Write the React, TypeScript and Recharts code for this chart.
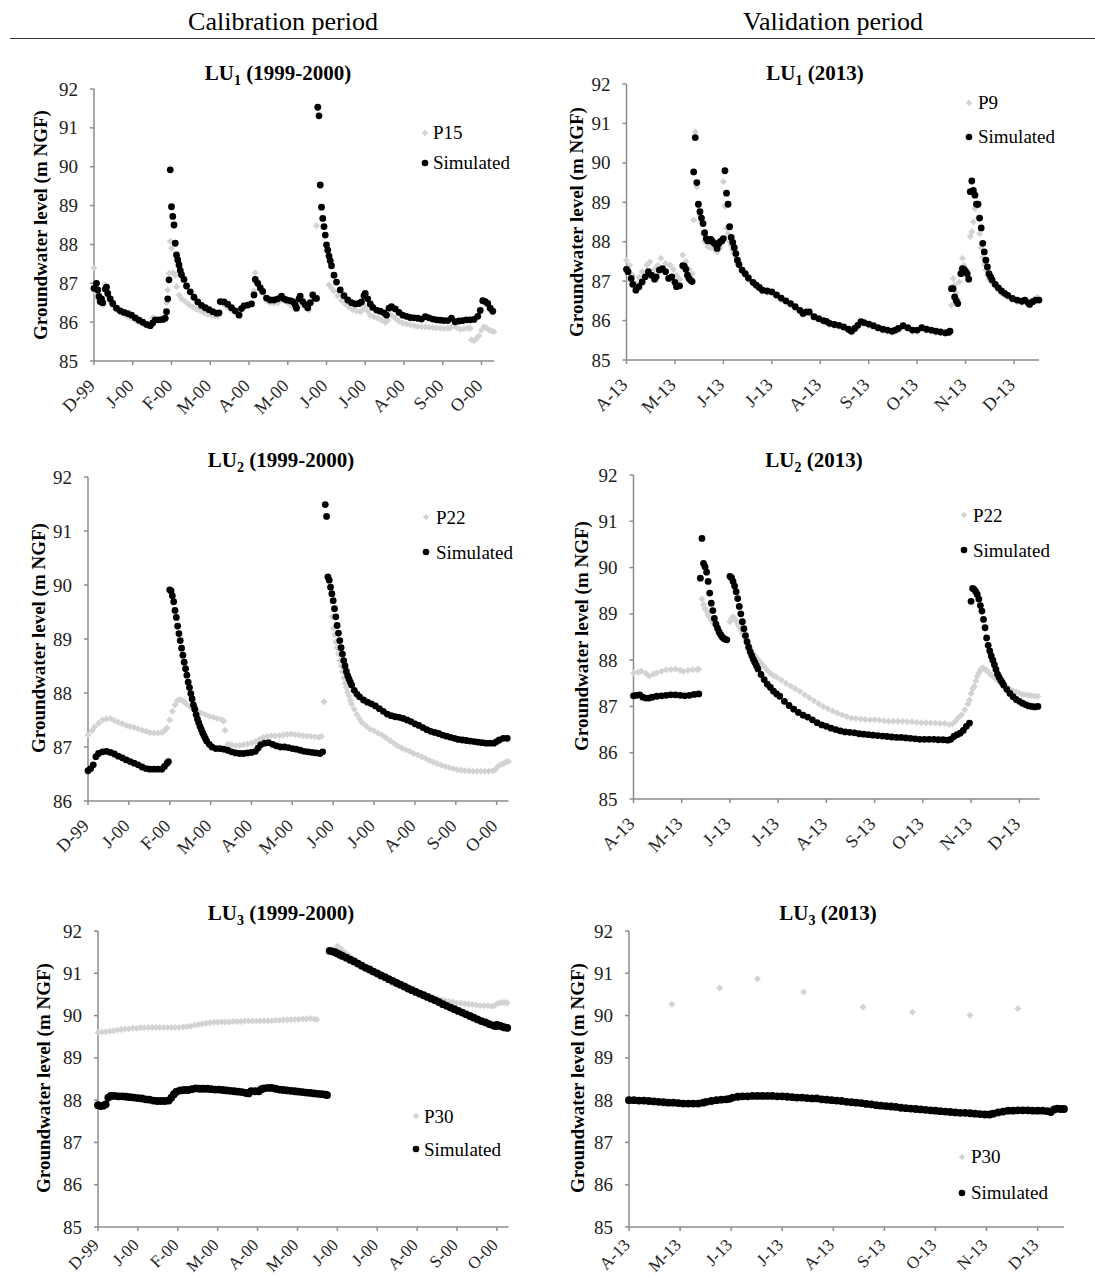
import React from 'react';
import { ScatterChart, Scatter, XAxis, YAxis, Legend } from 'recharts';

const SERIF = 'Liberation Serif, Times New Roman, serif';

// tick labels, one every 31 days from the first day of the period
const CAL_LABELS = ['D-99', 'J-00', 'F-00', 'M-00', 'A-00', 'M-00', 'J-00', 'J-00', 'A-00', 'S-00', 'O-00'];
const VAL_LABELS = ['A-13', 'M-13', 'J-13', 'J-13', 'A-13', 'S-13', 'O-13', 'N-13', 'D-13'];

// [day since start, groundwater level (m NGF)]
const LU1_CAL_P15: [number, number][] = [
  [0,87.4],[2,86.74],[3,86.6],[5,86.48],[7,86.44],[9,86.96],[11,86.66],[13,86.52],[15,86.4],[18,86.32],[21,86.25],[24,86.2],[27,86.14],[30,86.1],[33,86.05],[36,86.0],[39,85.95],[42,85.91],[44,85.9],[47,86.12],[50,86.06],[53,86.05],[56,86.06],[58,86.5],[59,86.83],[60,87.26],[61,88.08],[62,87.9],[63,87.27],[64,87.25],[65,87.21],[66,86.91],[68,86.7],[70,86.6],[73,86.53],[76,86.45],[79,86.39],[82,86.33],[85,86.29],[88,86.24],[91,86.2],[94,86.18],[97,86.16],[99,86.15],
  [101,86.53],[103,86.48],[106,86.4],[109,86.33],[112,86.27],[115,86.2],[117,86.22],[119,86.38],[121,86.4],[124,86.45],[126,86.47],[128,86.8],[129,87.27],[131,87.05],[133,86.91],[135,86.75],[138,86.55],[141,86.5],[144,86.48],[147,86.5],[149,86.57],[152,86.55],[155,86.5],[158,86.42],[161,86.33],[163,86.4],[165,86.57],[167,86.45],[170,86.35],[172,86.31],[174,86.5],[176,86.61],[178,88.48],
  [188,86.96],[190,86.88],[192,86.8],[195,86.68],[198,86.56],[201,86.47],[204,86.39],[207,86.32],[210,86.29],[213,86.27],[215,86.32],[217,86.4],[219,86.28],[221,86.18],[224,86.14],[227,86.1],[230,86.05],[233,85.99],[235,86.05],[238,86.18],[241,86.1],[244,86.02],[247,85.98],[250,85.95],[253,85.93],[256,85.91],[259,85.89],[262,85.88],[265,85.88],[268,85.87],[271,85.86],[274,85.85],[277,85.84],[280,85.84],[283,85.84],[285,85.85],[287,85.9],[290,85.86],[293,85.82],[296,85.83],[299,85.84],[301,85.84],[302,85.55],[304,85.53],[306,85.58],[308,85.65],[310,85.8],[312,85.88],[314,85.85],[316,85.8],[318,85.78],[320,85.75],
];
const LU1_CAL_SIM: [number, number][] = [
  [0,86.87],[2,87.0],[3,86.83],[4,86.66],[5,86.53],[6,86.6],[7,86.5],[9,86.85],[10,86.9],[11,86.74],[13,86.6],[15,86.48],[18,86.36],[21,86.29],[24,86.25],[27,86.22],[30,86.18],[33,86.11],[36,86.05],[39,86.0],[42,85.94],[45,85.91],[47,85.98],[49,86.06],[52,86.06],[55,86.07],[57,86.1],[58,86.27],[59,86.6],[60,87.09],[61,89.92],[62,88.97],[63,88.72],[64,88.5],[65,88.03],[66,87.73],[67,87.6],[68,87.47],[69,87.33],[70,87.22],[72,87.1],[74,86.93],[77,86.78],[80,86.64],[83,86.52],[86,86.43],[89,86.37],[92,86.32],[95,86.27],[98,86.23],[100,86.24],
  [101,86.53],[104,86.52],[107,86.46],[110,86.37],[113,86.29],[116,86.18],[118,86.35],[120,86.42],[123,86.44],[126,86.47],[128,86.7],[129,87.1],[131,87.0],[133,86.88],[135,86.79],[138,86.62],[141,86.57],[144,86.57],[147,86.6],[150,86.67],[152,86.6],[154,86.57],[157,86.55],[159,86.53],[161,86.45],[162,86.36],[164,86.6],[165,86.67],[167,86.53],[169,86.45],[171,86.37],[173,86.5],[175,86.7],[177,86.62],[178,86.61],
  [179,91.53],[180,91.31],[181,89.53],[182,88.96],[183,88.67],[184,88.46],[185,88.24],[186,87.99],[187,87.85],[188,87.7],[189,87.58],[190,87.45],[192,87.21],[194,87.03],[197,86.83],[200,86.68],[203,86.57],[206,86.5],[209,86.47],[212,86.48],[214,86.52],[216,86.68],[217,86.74],[219,86.6],[221,86.47],[223,86.38],[226,86.31],[229,86.28],[232,86.24],[234,86.18],[236,86.36],[238,86.4],[241,86.34],[244,86.25],[247,86.18],[250,86.15],[253,86.12],[256,86.11],[259,86.1],[262,86.08],[265,86.14],[268,86.11],[271,86.08],[274,86.06],[277,86.05],[280,86.04],[283,86.04],[286,86.1],[289,86.01],[292,86.03],[295,86.04],[298,86.06],[301,86.06],[304,86.07],[307,86.15],[309,86.3],[311,86.55],[313,86.53],[315,86.48],[317,86.36],[319,86.28],
];

const LU1_VAL_P9: [number, number][] = [
  [0,87.53],[2,87.4],[4,87.15],[6,86.94],[8,87.1],[10,87.24],[13,87.41],[15,87.49],[18,87.3],[20,87.4],[22,87.58],[25,87.45],[28,87.4],[30,87.3],[32,87.15],[34,87.05],[36,87.66],[38,87.5],[40,87.3],[42,87.19],
  [43,88.55],[44,90.79],[45,89.39],[46,88.9],[47,88.65],[48,88.5],[49,88.2],[50,88.0],[52,87.87],[54,87.85],[56,87.83],[58,87.74],[60,87.85],[62,89.52],[63,88.9],[64,88.34],[65,88.2],[66,88.0],[67,87.9],[68,87.8],[69,87.7],[70,87.6],[71,87.48],[72,87.38],[74,87.24],[76,87.15],[78,87.04],[81,86.93],[83,86.86],[85,86.8],[87,86.73],[90,86.71],[93,86.69],[96,86.61],[99,86.53],[102,86.46],[105,86.39],[108,86.31],[111,86.22],[113,86.14],[115,86.18],[117,86.18],[120,86.06],[123,86.01],[126,85.96],[128,85.94],[130,85.89],[133,85.86],[136,85.84],[139,85.8],[142,85.74],[144,85.7],[146,85.76],[148,85.84],[150,85.93],[152,85.91],[155,85.87],[158,85.83],[161,85.78],[164,85.74],[167,85.72],[170,85.69],[172,85.72],[174,85.76],[177,85.83],[180,85.78],[183,85.72],[186,85.72],[189,85.78],[192,85.74],[195,85.72],[198,85.69],[201,85.68],[204,85.66],[207,85.68],
  [208,86.39],[209,87.07],[210,86.9],[211,86.7],[212,86.55],[213,86.98],[214,87.3],[215,87.58],[216,87.4],[217,87.3],[218,87.2],[219,87.1],[220,88.13],[221,88.25],[222,88.5],[223,88.84],[224,88.9],[225,88.6],[226,88.2],[227,87.85],[228,87.6],[229,87.42],[230,87.28],[231,87.15],[232,87.05],[234,86.95],[236,86.85],[238,86.77],[240,86.7],[242,86.64],[244,86.59],[247,86.52],[250,86.48],[253,86.46],[255,86.5],[257,86.42],[259,86.48],[261,86.55],[263,86.6],
];
const LU1_VAL_SIM: [number, number][] = [
  [0,87.3],[1,87.24],[3,87.07],[4,86.92],[6,86.77],[8,86.86],[10,86.98],[12,87.11],[14,87.24],[16,87.15],[18,87.05],[19,87.11],[21,87.28],[23,87.32],[25,87.24],[27,87.07],[29,87.11],[31,86.97],[32,86.86],[34,86.88],
  [36,87.39],[37,87.38],[38,87.3],[39,87.15],[40,87.07],[41,87.02],[42,86.99],
  [43,89.77],[44,90.64],[45,89.5],[46,88.95],[47,88.76],[48,88.6],[49,88.46],[50,88.23],[51,88.08],[52,88.02],[53,88.04],[54,88.06],[55,88.0],[56,87.97],[57,87.93],[58,87.83],[59,87.95],[60,88.0],[61,88.02],[62,88.08],[63,89.8],[64,89.23],[65,88.95],[66,88.38],[67,88.11],[68,87.98],[69,87.85],[70,87.7],[71,87.53],[72,87.42],[74,87.28],[76,87.19],[78,87.08],[81,86.97],[83,86.9],[85,86.84],[87,86.77],[90,86.75],[93,86.73],[96,86.65],[99,86.57],[102,86.5],[105,86.43],[108,86.35],[111,86.26],[113,86.18],[115,86.22],[117,86.22],[120,86.1],[123,86.05],[126,86.0],[128,85.98],[130,85.93],[133,85.9],[136,85.88],[139,85.84],[142,85.78],[144,85.73],[146,85.8],[148,85.88],[150,85.97],[152,85.95],[155,85.91],[158,85.87],[161,85.82],[164,85.78],[167,85.76],[170,85.73],[172,85.76],[174,85.8],[177,85.87],[180,85.82],[183,85.76],[186,85.76],[189,85.82],[192,85.78],[195,85.76],[198,85.73],[201,85.71],[204,85.69],[206,85.7],[207,85.73],
  [208,86.81],[209,86.81],[210,86.6],[211,86.5],[212,86.43],[214,87.19],[215,87.32],[216,87.3],[217,87.25],[218,87.19],[219,87.05],[220,89.27],[221,89.54],[222,89.3],[223,89.18],[224,88.95],[225,88.95],[226,88.6],[227,88.35],[228,87.96],[229,87.74],[230,87.53],[231,87.36],[232,87.19],[233,87.11],[234,87.03],[236,86.92],[238,86.83],[240,86.75],[242,86.69],[244,86.64],[247,86.56],[250,86.52],[253,86.49],[255,86.52],[257,86.45],[258,86.41],[260,86.48],[262,86.52],[264,86.52],
];

const LU2_CAL_P22: [number, number][] = [
  [0,87.22],[3,87.3],[5,87.37],[8,87.44],[11,87.5],[14,87.52],[17,87.53],[20,87.49],[23,87.46],[26,87.43],[29,87.4],[32,87.38],[35,87.36],[38,87.34],[41,87.31],[44,87.29],[47,87.27],[50,87.26],[53,87.26],[56,87.27],[58,87.3],[60,87.35],[62,87.5],[64,87.66],[66,87.78],[68,87.86],[70,87.88],[72,87.85],[74,87.81],[77,87.75],[80,87.71],[83,87.67],[86,87.63],[89,87.6],[92,87.57],[95,87.55],[98,87.53],[101,87.51],[103,87.48],[104,87.31],
  [106,87.05],[109,87.04],[112,87.03],[115,87.03],[118,87.04],[121,87.05],[124,87.07],[127,87.1],[130,87.14],[133,87.18],[136,87.2],[139,87.21],[142,87.21],[145,87.21],[148,87.22],[151,87.23],[154,87.24],[157,87.23],[160,87.22],[163,87.21],[166,87.2],[169,87.2],[172,87.19],[175,87.18],[177,87.2],[179,87.84],
  [185,89.41],[186,89.2],[187,89.08],[188,88.95],[189,88.84],[190,88.72],[191,88.6],[192,88.5],[193,88.4],[194,88.28],[195,88.18],[196,88.1],[197,88.02],[198,87.95],[199,87.86],[200,87.79],[202,87.7],[204,87.6],[206,87.52],[208,87.45],[211,87.39],[214,87.33],[217,87.3],[220,87.26],[223,87.22],[226,87.17],[229,87.12],[232,87.07],[235,87.02],[238,86.98],[241,86.95],[244,86.92],[247,86.88],[250,86.85],[253,86.82],[256,86.79],[259,86.75],[262,86.72],[265,86.69],[268,86.66],[271,86.64],[274,86.62],[277,86.6],[280,86.58],[283,86.57],[286,86.56],[289,86.56],[292,86.55],[295,86.55],[298,86.55],[301,86.55],[304,86.55],[307,86.56],[309,86.58],[311,86.64],[313,86.67],[315,86.69],[317,86.72],[319,86.73],
];
const LU2_CAL_SIM: [number, number][] = [
  [0,86.56],[2,86.6],[4,86.67],[6,86.82],[8,86.88],[11,86.91],[14,86.92],[17,86.9],[20,86.87],[23,86.83],[26,86.8],[29,86.76],[32,86.73],[35,86.7],[38,86.67],[41,86.63],[44,86.6],[47,86.59],[50,86.59],[53,86.59],[56,86.59],[58,86.64],[60,86.7],[61,86.73],
  [62,89.91],[63,89.89],[64,89.8],[65,89.69],[66,89.53],[67,89.4],[68,89.24],[69,89.1],[70,88.97],[71,88.83],[72,88.7],[73,88.57],[74,88.45],[75,88.33],[76,88.2],[77,88.1],[78,87.99],[79,87.89],[80,87.78],[81,87.7],[82,87.6],[83,87.52],[84,87.45],[85,87.38],[86,87.32],[87,87.26],[88,87.21],[89,87.16],[90,87.11],[92,87.05],[94,87.0],[97,86.97],[100,86.97],[103,86.96],[106,86.94],[109,86.91],[112,86.89],[115,86.88],[118,86.88],[121,86.89],[124,86.9],[127,86.92],[129,86.98],[131,87.04],[134,87.07],[137,87.08],[140,87.05],[143,87.02],[146,87.0],[149,87.0],[152,86.99],[155,86.97],[158,86.96],[161,86.94],[164,86.92],[167,86.91],[170,86.9],[173,86.89],[176,86.88],[178,86.91],
  [180,91.49],[181,91.27],[182,90.15],[183,90.09],[184,89.96],[185,89.84],[186,89.71],[187,89.56],[188,89.41],[189,89.25],[190,89.11],[191,88.97],[192,88.84],[193,88.72],[194,88.6],[195,88.5],[196,88.4],[197,88.32],[198,88.26],[199,88.2],[200,88.15],[202,88.05],[204,87.98],[206,87.93],[209,87.87],[212,87.83],[215,87.8],[218,87.76],[221,87.71],[224,87.66],[227,87.61],[230,87.58],[233,87.56],[236,87.55],[239,87.53],[242,87.5],[245,87.47],[248,87.43],[251,87.4],[254,87.36],[257,87.32],[260,87.29],[263,87.27],[266,87.25],[269,87.22],[272,87.2],[275,87.18],[278,87.16],[281,87.14],[284,87.13],[287,87.12],[290,87.11],[293,87.1],[296,87.09],[299,87.08],[302,87.07],[305,87.07],[308,87.07],[310,87.1],[312,87.13],[315,87.16],[318,87.16],
];

const LU2_VAL_P22: [number, number][] = [
  [0,87.72],[3,87.74],[5,87.76],[8,87.71],[10,87.66],[13,87.7],[15,87.72],[18,87.76],[21,87.79],[24,87.8],[27,87.81],[30,87.78],[32,87.76],[35,87.78],[38,87.79],[41,87.8],[42,87.81],
  [44,89.32],[45,89.2],[46,89.12],[47,89.05],[48,88.98],[49,88.92],[50,88.87],[51,88.82],[52,88.78],[53,88.74],[54,88.68],[56,88.6],[58,88.5],
  [62,88.83],[63,88.9],[64,88.94],[65,88.9],[66,88.84],[67,88.78],[68,88.72],[69,88.65],[70,88.58],[71,88.52],[72,88.46],[73,88.41],[74,88.34],[75,88.27],[76,88.2],[78,88.1],[80,88.02],[82,87.94],[84,87.86],[86,87.78],[88,87.71],[90,87.67],[92,87.63],[95,87.57],[98,87.5],[101,87.44],[104,87.38],[107,87.32],[110,87.25],[113,87.19],[116,87.12],[119,87.06],[122,87.0],[125,86.95],[128,86.9],[131,86.86],[134,86.82],[137,86.78],[140,86.75],[143,86.74],[146,86.73],[149,86.72],[152,86.71],[155,86.71],[158,86.7],[161,86.69],[164,86.68],[167,86.68],[170,86.68],[173,86.68],[176,86.67],[179,86.67],[182,86.66],[185,86.65],[188,86.65],[191,86.64],[194,86.64],[197,86.63],[200,86.63],[203,86.61],[205,86.62],[207,86.68],[209,86.76],[211,86.82],[213,86.93],[215,87.05],[216,87.14],[217,87.28],[218,87.38],[219,87.43],[220,87.55],[221,87.65],[222,87.72],[223,87.78],[224,87.82],[225,87.83],[226,87.8],[227,87.78],[228,87.74],[230,87.68],[232,87.62],[234,87.56],[236,87.5],[238,87.47],[240,87.42],[242,87.37],[244,87.34],[246,87.31],[248,87.29],[250,87.26],[252,87.25],[254,87.24],[256,87.23],[258,87.22],[260,87.22],
];
const LU2_VAL_SIM: [number, number][] = [
  [0,87.23],[2,87.24],[4,87.25],[6,87.2],[8,87.18],[10,87.18],[12,87.2],[15,87.22],[18,87.23],[21,87.24],[24,87.25],[27,87.25],[30,87.24],[33,87.23],[36,87.24],[39,87.26],[42,87.27],
  [43,89.77],[44,90.63],[45,90.09],[46,90.02],[47,89.9],[48,89.7],[49,89.45],[50,89.23],[51,89.07],[52,88.9],[53,88.78],[54,88.69],[55,88.61],[56,88.55],[57,88.5],[58,88.47],[59,88.45],[60,88.44],
  [62,89.81],[63,89.78],[64,89.7],[65,89.6],[66,89.48],[67,89.33],[68,89.16],[69,89.0],[70,88.83],[71,88.68],[72,88.53],[73,88.4],[74,88.28],[75,88.18],[76,88.1],[77,88.02],[78,87.95],[79,87.88],[80,87.81],[82,87.69],[84,87.58],[86,87.48],[88,87.41],[90,87.33],[92,87.27],[94,87.22],[97,87.11],[100,87.02],[103,86.94],[106,86.87],[109,86.81],[112,86.77],[115,86.71],[118,86.65],[121,86.6],[124,86.57],[127,86.53],[130,86.5],[133,86.47],[136,86.45],[139,86.44],[142,86.43],[145,86.41],[148,86.4],[151,86.39],[154,86.38],[157,86.37],[160,86.36],[163,86.35],[166,86.34],[169,86.33],[172,86.33],[175,86.32],[178,86.31],[181,86.3],[184,86.29],[187,86.29],[190,86.29],[193,86.29],[196,86.28],[199,86.28],[202,86.27],[204,86.29],[206,86.35],[208,86.39],[210,86.42],[212,86.48],[214,86.57],[216,86.64],
  [217,89.27],[218,89.55],[219,89.53],[220,89.48],[221,89.42],[222,89.32],[223,89.18],[224,89.06],[225,88.88],[226,88.7],[227,88.48],[228,88.32],[229,88.2],[230,88.09],[231,88.0],[232,87.9],[233,87.8],[234,87.7],[235,87.63],[236,87.57],[237,87.52],[238,87.46],[240,87.37],[242,87.28],[244,87.21],[246,87.15],[248,87.11],[250,87.07],[252,87.04],[254,87.01],[256,87.0],[258,86.99],[260,87.0],
];

const LU3_CAL_P30: [number, number][] = [
  [0,89.6],[3,89.61],[6,89.62],[9,89.63],[12,89.64],[15,89.66],[18,89.67],[21,89.68],[24,89.69],[27,89.7],[30,89.7],[33,89.71],[36,89.71],[39,89.72],[42,89.72],[45,89.72],[48,89.72],[51,89.72],[54,89.72],[57,89.72],[60,89.72],[63,89.72],[66,89.73],[69,89.74],[72,89.75],[75,89.77],[78,89.79],[81,89.8],[84,89.82],[87,89.83],[90,89.84],[93,89.84],[96,89.85],[99,89.85],[102,89.85],[105,89.86],[108,89.86],[111,89.86],[114,89.87],[117,89.87],[120,89.87],[123,89.87],[126,89.87],[129,89.88],[132,89.88],[135,89.88],[138,89.89],[141,89.89],[144,89.9],[147,89.9],[150,89.9],[153,89.91],[156,89.91],[159,89.92],[162,89.92],[165,89.93],[168,89.92],[170,89.91],
  [186,91.64],[189,91.57],[192,91.49],[195,91.42],[198,91.35],[201,91.28],[204,91.22],[207,91.15],[210,91.09],[213,91.03],[216,90.98],[219,90.93],[222,90.88],[225,90.84],[228,90.79],[231,90.75],[234,90.71],[237,90.67],[240,90.63],[243,90.59],[246,90.56],[249,90.52],[252,90.49],[255,90.46],[258,90.44],[261,90.41],[264,90.39],[267,90.37],[270,90.35],[273,90.33],[276,90.32],[279,90.3],[282,90.29],[285,90.28],[288,90.27],[291,90.26],[294,90.25],[297,90.24],[300,90.23],[303,90.23],[306,90.22],[308,90.23],[310,90.28],[312,90.3],[314,90.31],[316,90.31],[318,90.3],
];
const LU3_CAL_SIM: [number, number][] = [
  [0,87.88],[2,87.86],[4,87.87],[6,87.9],[8,88.06],[10,88.1],[13,88.1],[16,88.09],[19,88.09],[22,88.08],[25,88.07],[28,88.06],[31,88.05],[34,88.04],[37,88.02],[40,88.01],[43,87.99],[46,87.98],[49,87.98],[52,87.98],[55,87.99],[57,88.06],[59,88.14],[61,88.2],[64,88.23],[67,88.24],[70,88.24],[73,88.26],[76,88.28],[79,88.27],[82,88.27],[85,88.27],[88,88.26],[91,88.25],[94,88.25],[97,88.24],[100,88.23],[103,88.22],[106,88.21],[109,88.2],[112,88.19],[115,88.17],[117,88.16],[119,88.21],[122,88.21],[125,88.21],[127,88.26],[129,88.28],[132,88.29],[135,88.29],[138,88.27],[141,88.25],[144,88.24],[147,88.23],[150,88.22],[153,88.21],[156,88.2],[159,88.19],[162,88.18],[165,88.17],[168,88.16],[171,88.15],[174,88.14],[177,88.13],[178,88.12],
  [180,91.53],[182,91.52],[184,91.5],[186,91.47],[188,91.44],[190,91.41],[193,91.37],[196,91.32],[199,91.28],[202,91.23],[205,91.18],[208,91.13],[211,91.09],[214,91.04],[217,91.0],[220,90.95],[223,90.91],[226,90.86],[229,90.82],[232,90.77],[235,90.73],[238,90.69],[241,90.64],[244,90.6],[247,90.56],[250,90.52],[253,90.48],[256,90.44],[259,90.4],[262,90.36],[265,90.32],[268,90.27],[271,90.23],[274,90.19],[277,90.15],[280,90.11],[283,90.07],[286,90.03],[289,89.99],[292,89.95],[295,89.91],[298,89.87],[301,89.84],[304,89.8],[307,89.77],[309,89.75],[310,89.78],[312,89.76],[314,89.74],[316,89.72],[318,89.71],
];

const LU3_VAL_P30: [number, number][] = [
  [26,90.27],[55,90.65],[78,90.87],[106,90.56],[142,90.2],[172,90.08],[207,90.01],[236,90.17],
];
const LU3_VAL_SIM: [number, number][] = [
  [0,88.0],[3,88.0],[6,87.99],[9,87.99],[12,87.98],[15,87.97],[18,87.96],[21,87.95],[24,87.94],[27,87.94],[30,87.93],[33,87.92],[36,87.92],[39,87.92],[42,87.92],[45,87.94],[47,87.96],[50,87.98],[53,88.0],[56,88.01],[59,88.02],[61,88.03],[63,88.06],[66,88.08],[69,88.09],[72,88.09],[75,88.1],[78,88.1],[81,88.1],[84,88.1],[87,88.1],[90,88.09],[93,88.09],[96,88.08],[99,88.07],[102,88.06],[105,88.06],[108,88.05],[111,88.04],[114,88.04],[117,88.02],[120,88.01],[123,88.0],[126,87.99],[129,87.98],[132,87.96],[135,87.95],[138,87.94],[141,87.93],[144,87.91],[147,87.9],[150,87.88],[153,87.87],[156,87.86],[159,87.85],[162,87.84],[165,87.82],[168,87.81],[171,87.8],[174,87.79],[177,87.78],[180,87.77],[183,87.76],[186,87.75],[189,87.74],[192,87.73],[195,87.72],[198,87.71],[201,87.7],[204,87.7],[207,87.69],[210,87.68],[213,87.67],[216,87.66],[219,87.66],[221,87.68],[224,87.71],[227,87.73],[230,87.75],[233,87.75],[236,87.76],[239,87.76],[242,87.76],[245,87.75],[248,87.75],[251,87.75],[254,87.74],[256,87.72],[258,87.78],[260,87.8],[262,87.79],[264,87.79],
];

const toPts = (arr: [number, number][]) => arr.map(([x, y]) => ({ x, y }));

const OBS_COLOR = '#d3d3d3';
const AXIS_COLOR = '#8c8c8c';

const makeDot = (r: number) => (p: any) => <circle cx={p.cx} cy={p.cy} r={r} fill="#000" />;
const makeDiamond = (s: number) => (p: any) => (
  <path d={`M${p.cx},${p.cy - s}L${p.cx + s},${p.cy}L${p.cx},${p.cy + s}L${p.cx - s},${p.cy}Z`} fill={OBS_COLOR} />
);

// rotated month labels, right end just below and right of the tick
const makeXTick = (labels: string[], dy: number, size: number) => (props: any) => {
  const { x, y, payload } = props;
  const label = labels[Math.round(payload.value / 31)];
  const px = x + 2;
  const py = y + dy;
  return (
    <text x={px} y={py} transform={`rotate(-45, ${px}, ${py})`} textAnchor="end" fill="#222" style={{ fontFamily: SERIF, fontSize: size }}>
      {label}
    </text>
  );
};

const makeYTick = (props: any) => {
  const { x, y, payload } = props;
  return (
    <text x={x} y={y} dy={6.5} textAnchor="end" fill="#222" style={{ fontFamily: SERIF, fontSize: 19 }}>
      {payload.value}
    </text>
  );
};

const PANELS = [
  { id: 'tl', colLeft: 0, plotL: 94, plotR: 494, plotTop: 89, plotBot: 361, xEnd: 320, yMin: 85, labels: CAL_LABELS, tickDy: 20, tickFont: 18, obs: LU1_CAL_P15, sim: LU1_CAL_SIM, obsName: 'P15', r: 3.4, title: '1', period: '(1999-2000)', titleX: 278, titleY: 75, axisTitleX: 41, axisTitleY: 225, leg: { iconX: 425, textX: 433, y1: 133, gap: 30 } },
  { id: 'tr', colLeft: 545, plotL: 626.5, plotR: 1039, plotTop: 84, plotBot: 360, xEnd: 264, yMin: 85, labels: VAL_LABELS, tickDy: 20, tickFont: 18, obs: LU1_VAL_P9, sim: LU1_VAL_SIM, obsName: 'P9', r: 3.4, title: '1', period: '(2013)', titleX: 815, titleY: 75, axisTitleX: 577, axisTitleY: 222, leg: { iconX: 969, textX: 978, y1: 103, gap: 34 } },
  { id: 'ml', colLeft: 0, plotL: 88, plotR: 508.5, plotTop: 477, plotBot: 801, xEnd: 319, yMin: 86, labels: CAL_LABELS, tickDy: 20, tickFont: 18, obs: LU2_CAL_P22, sim: LU2_CAL_SIM, obsName: 'P22', r: 3.4, title: '2', period: '(1999-2000)', titleX: 281, titleY: 462, axisTitleX: 39, axisTitleY: 638, leg: { iconX: 426, textX: 436, y1: 517, gap: 35 } },
  { id: 'mr', colLeft: 545, plotL: 633.5, plotR: 1039.5, plotTop: 475, plotBot: 799, xEnd: 261, yMin: 85, labels: VAL_LABELS, tickDy: 20, tickFont: 18, obs: LU2_VAL_P22, sim: LU2_VAL_SIM, obsName: 'P22', r: 3.4, title: '2', period: '(2013)', titleX: 814, titleY: 462, axisTitleX: 582, axisTitleY: 636, leg: { iconX: 964, textX: 973, y1: 515, gap: 35 } },
  { id: 'bl', colLeft: 0, plotL: 98, plotR: 508.5, plotTop: 931, plotBot: 1227, xEnd: 319, yMin: 85, labels: CAL_LABELS, tickDy: 13, tickFont: 17, obs: LU3_CAL_P30, sim: LU3_CAL_SIM, obsName: 'P30', r: 3.9, title: '3', period: '(1999-2000)', titleX: 281, titleY: 915, axisTitleX: 44, axisTitleY: 1078, leg: { iconX: 416, textX: 424, y1: 1116, gap: 33 } },
  { id: 'br', colLeft: 545, plotL: 629, plotR: 1064, plotTop: 931, plotBot: 1227, xEnd: 264, yMin: 85, labels: VAL_LABELS, tickDy: 13, tickFont: 17, obs: LU3_VAL_P30, sim: LU3_VAL_SIM, obsName: 'P30', r: 3.9, title: '3', period: '(2013)', titleX: 828, titleY: 915, axisTitleX: 578, axisTitleY: 1078, leg: { iconX: 962, textX: 971, y1: 1157, gap: 36 } },
];

function LegendBox({ obsName, iconX, textX, gap }: any) {
  const row = (icon: React.ReactNode, text: string) => (
    <div style={{ position: 'relative', height: gap }}>
      <svg width={10} height={10} style={{ position: 'absolute', left: 0, top: gap / 2 - 5 }}>{icon}</svg>
      <span style={{ position: 'absolute', left: textX - iconX + 5, top: 0, lineHeight: `${gap}px`, fontSize: 19, fontFamily: SERIF, color: '#000', whiteSpace: 'nowrap' }}>
        {text}
      </span>
    </div>
  );
  return (
    <div style={{ width: 110, fontFamily: SERIF }}>
      {row(<path d="M5,1.8L8.2,5L5,8.2L1.8,5Z" fill={OBS_COLOR} />, obsName)}
      {row(<circle cx={5} cy={5} r={3.3} fill="#000" />, 'Simulated')}
    </div>
  );
}

function Panel({ p }: any) {
  const top = p.plotTop - 10;
  const width = p.plotR + 14 - p.colLeft;
  const height = Math.min(p.plotBot - top + 62, 1277 - top);
  const xTicks = p.labels.map((_: string, i: number) => i * 31);
  const yTicks: number[] = [];
  for (let v = p.yMin; v <= 92; v++) yTicks.push(v);
  const xAxisHeight = height - 2 - (p.plotBot - top) + 10;
  return (
    <div style={{ position: 'absolute', left: p.colLeft, top, fontFamily: SERIF }}>
      <ScatterChart width={width} height={height} margin={{ top: 10, right: 14, bottom: 2, left: 0 }}>
        <XAxis
          type="number"
          dataKey="x"
          domain={[0, p.xEnd]}
          ticks={xTicks}
          interval={0}
          height={xAxisHeight - 10}
          axisLine={{ stroke: AXIS_COLOR, strokeWidth: 1.5 }}
          tickLine={{ stroke: AXIS_COLOR, strokeWidth: 1.5 }}
          tickSize={4}
          tickMargin={2}
          tick={makeXTick(p.labels, p.tickDy, p.tickFont)}
        />
        <YAxis
          type="number"
          dataKey="y"
          domain={[p.yMin, 92]}
          ticks={yTicks}
          interval={0}
          width={p.plotL - p.colLeft}
          axisLine={{ stroke: AXIS_COLOR, strokeWidth: 1.5 }}
          tickLine={{ stroke: AXIS_COLOR, strokeWidth: 1.5 }}
          tickSize={4}
          tickMargin={12}
          tick={makeYTick}
        />
        <Scatter name={p.obsName} data={toPts(p.obs)} shape={makeDiamond(3.5)} fill={OBS_COLOR} isAnimationActive={false} />
        <Scatter name="Simulated" data={toPts(p.sim)} shape={makeDot(p.r)} fill="#000" isAnimationActive={false} />
        <Legend
          layout="vertical"
          align="center"
          verticalAlign="middle"
          wrapperStyle={{ left: p.leg.iconX - 5 - p.colLeft, top: p.leg.y1 - p.leg.gap / 2 - top, width: 110 }}
          content={() => <LegendBox obsName={p.obsName} iconX={p.leg.iconX} textX={p.leg.textX} gap={p.leg.gap} />}
        />
      </ScatterChart>
      <div style={{ position: 'absolute', left: p.titleX - p.colLeft, top: p.titleY - top, transform: 'translate(-50%, -50%)', fontFamily: SERIF, fontWeight: 'bold', fontSize: 21, whiteSpace: 'nowrap', color: '#000' }}>
        LU<sub style={{ fontSize: 14 }}>{p.title}</sub> {p.period}
      </div>
      <div style={{ position: 'absolute', left: p.axisTitleX - p.colLeft, top: p.axisTitleY - top, transform: 'translate(-50%, -50%) rotate(-90deg)', fontFamily: SERIF, fontWeight: 'bold', fontSize: 19, whiteSpace: 'nowrap', color: '#000' }}>
        Groundwater level (m NGF)
      </div>
    </div>
  );
}

export default function App() {
  return (
    <div style={{ position: 'absolute', left: 0, top: 0, width: 1095, height: 1277, background: '#fff', fontFamily: SERIF, overflow: 'hidden' }}>
      <div style={{ position: 'absolute', left: 283, top: 22, transform: 'translate(-50%, -50%)', fontSize: 26, whiteSpace: 'nowrap' }}>Calibration period</div>
      <div style={{ position: 'absolute', left: 833, top: 22, transform: 'translate(-50%, -50%)', fontSize: 26, whiteSpace: 'nowrap' }}>Validation period</div>
      <div style={{ position: 'absolute', left: 10, top: 38, width: 1085, height: 0, borderTop: '1.5px solid #333' }} />
      {PANELS.map((p) => (
        <Panel key={p.id} p={p} />
      ))}
    </div>
  );
}
